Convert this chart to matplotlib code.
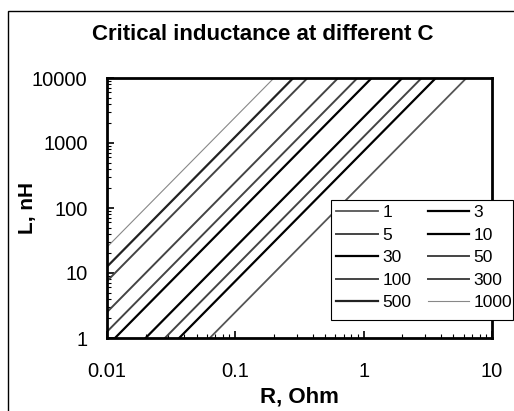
import matplotlib
matplotlib.use("Agg")
import matplotlib.pyplot as plt
from matplotlib.patches import Rectangle

plt.rcParams['font.family'] = ['Liberation Sans', 'DejaVu Sans']

# Capacitance values (legend labels)
caps = ["1", "3", "5", "10", "30", "50", "100", "300", "500", "1000"]
# Resistance endpoints (Ohm)
r_points = [0.01, 10]
# L (nH) read at R = 0.01 and at R = 10 for each series (extended straight lines)
L_at_r_low = [0.025, 0.075, 0.125, 0.25, 0.75, 1.25, 2.5, 7.5, 12.5, 25]
L_at_r_high = [25000, 75000, 125000, 250000, 750000, 1250000, 2500000, 7500000, 12500000, 25000000]

colors = ["#555555", "#000000", "#444444", "#000000", "#000000",
          "#444444", "#444444", "#444444", "#222222", "#888888"]
widths = [1.3, 1.6, 1.4, 1.6, 1.6, 1.4, 1.4, 1.4, 1.6, 0.8]

W, H = 514, 411
fig = plt.figure(figsize=(W / 100, H / 100), dpi=100)
ax = fig.add_axes([107 / W, 1 - 338 / H, (492 - 107) / W, (338 - 78) / H])

handles = []
for lab, lo, hi, c, lw in zip(caps, L_at_r_low, L_at_r_high, colors, widths):
    ln, = ax.plot(r_points, [lo, hi], color=c, lw=lw, label=lab)
    handles.append(ln)

ax.set_xscale('log')
ax.set_yscale('log')
ax.set_xlim(0.01, 10)
ax.set_ylim(1, 10000)
ax.set_xticks([0.01, 0.1, 1, 10])
ax.set_xticklabels(["0.01", "0.1", "1", "10"])
ax.set_yticks([1, 10, 100, 1000, 10000])
ax.set_yticklabels(["1", "10", "100", "1000", "10000"])
ax.tick_params(axis='both', which='major', direction='in', length=5, width=1.2,
               labelsize=14.5, top=False, right=False)
ax.tick_params(axis='x', which='major', pad=17)
ax.tick_params(axis='y', which='major', pad=14)
ax.tick_params(axis='both', which='minor', direction='in', length=3, width=0.8,
               top=False, right=False)
for s in ax.spines.values():
    s.set_linewidth(2)

ax.set_xlabel("R, Ohm", fontsize=16, fontweight='bold')
ax.set_ylabel("L, nH", fontsize=15, fontweight='bold')
ax.xaxis.set_label_coords(0.5, (338 - 397) / (338 - 78))
ax.yaxis.set_label_coords((28 - 107) / (492 - 107), 0.5)
ax.xaxis.label.set_va('center')
ax.yaxis.label.set_va('center')

fig.text(263 / W, 1 - 35 / H, "Critical inductance at different C",
         fontsize=16, fontweight='bold', ha='center', va='center')

# legend box
fig.patches.append(Rectangle((331 / W, 1 - 320 / H), (513 - 331) / W, 120 / H,
                             transform=fig.transFigure, facecolor='white',
                             edgecolor='black', lw=0.8, zorder=2))

# row-major legend order (matplotlib fills column-major)
order = [0, 2, 4, 6, 8, 1, 3, 5, 7, 9]
leg = fig.legend([handles[i] for i in order], [caps[i] for i in order],
                 loc='upper left', bbox_to_anchor=(331 / W, 1 - 200 / H),
                 ncol=2, fontsize=12.5, frameon=False, handlelength=2.4,
                 handletextpad=0.25, columnspacing=0.95, labelspacing=0.42,
                 borderpad=0.3, borderaxespad=0)
leg.set_zorder(5)

fig.patches.append(Rectangle((8 / W, -0.05), 1.1, 1 - 11 / H + 0.05,
                             transform=fig.transFigure, fill=False,
                             edgecolor='black', lw=1))

fig.savefig("out.png", dpi=100)
